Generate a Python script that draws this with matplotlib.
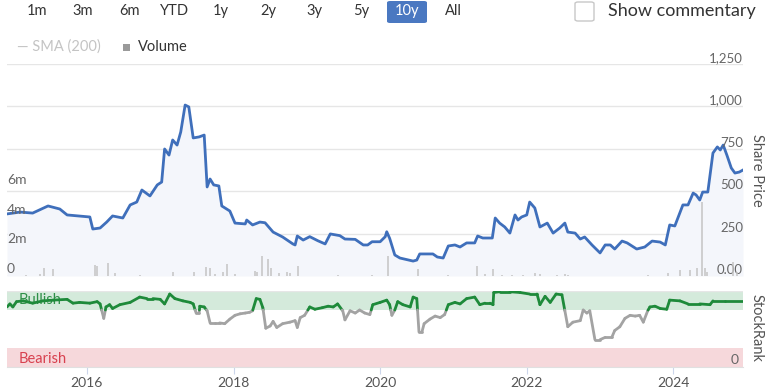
import numpy as np
import matplotlib
matplotlib.use("Agg")
import matplotlib.pyplot as plt
import matplotlib.transforms as mtransforms
from matplotlib.collections import LineCollection
from matplotlib.patches import FancyBboxPatch, Rectangle

plt.rcParams["font.family"] = ["Lato", "DejaVu Sans"]

# Data (dates as decimal years)
price_dates = [
    2014.91, 2015.09, 2015.26, 2015.47, 2015.63, 2015.73, 2016.04, 2016.08, 2016.18, 2016.27,
    2016.35, 2016.49, 2016.59, 2016.68, 2016.75, 2016.86, 2016.96, 2017.02, 2017.06, 2017.12,
    2017.17, 2017.23, 2017.28, 2017.34, 2017.39, 2017.45, 2017.53, 2017.60, 2017.64, 2017.68,
    2017.73, 2017.80, 2017.84, 2017.95, 2018.02, 2018.16, 2018.18, 2018.26, 2018.36, 2018.43,
    2018.54, 2018.67, 2018.81, 2018.84, 2018.87, 2018.95, 2019.04, 2019.15, 2019.25, 2019.32,
    2019.45, 2019.52, 2019.66, 2019.77, 2019.83, 2019.89, 2020.00, 2020.07, 2020.09, 2020.13,
    2020.20, 2020.27, 2020.45, 2020.50, 2020.54, 2020.72, 2020.78, 2020.86, 2020.93, 2021.02,
    2021.09, 2021.18, 2021.29, 2021.33, 2021.40, 2021.53, 2021.57, 2021.63, 2021.70, 2021.77,
    2021.84, 2021.88, 2021.93, 2022.00, 2022.04, 2022.11, 2022.18, 2022.28, 2022.36, 2022.45,
    2022.52, 2022.56, 2022.66, 2022.73, 2022.79, 2022.89, 2022.96, 2023.00, 2023.07, 2023.14,
    2023.20, 2023.30, 2023.37, 2023.50, 2023.61, 2023.71, 2023.82, 2023.89, 2023.95, 2024.02,
    2024.13, 2024.20, 2024.27, 2024.31, 2024.36, 2024.40, 2024.47, 2024.54, 2024.60, 2024.64,
    2024.68, 2024.73, 2024.79, 2024.84, 2024.90, 2024.95,
]
price_vals = [
    366, 377, 371, 413, 395, 360, 348, 277, 283, 318,
    354, 342, 419, 436, 507, 472, 537, 554, 749, 713,
    802, 772, 849, 1008, 997, 814, 820, 831, 525, 572,
    537, 531, 413, 383, 312, 307, 330, 301, 318, 314,
    259, 230, 189, 183, 236, 212, 232, 208, 189, 248,
    238, 218, 216, 183, 183, 202, 202, 232, 261, 222,
    124, 106, 88, 94, 130, 130, 112, 106, 177, 183,
    171, 195, 195, 236, 224, 224, 342, 312, 289, 253,
    360, 330, 348, 360, 436, 401, 289, 312, 253, 283,
    312, 259, 253, 218, 230, 183, 153, 136, 183, 183,
    159, 206, 195, 159, 171, 206, 200, 183, 301, 295,
    419, 419, 489, 478, 448, 495, 495, 725, 761, 743,
    772, 713, 637, 607, 613, 625,
]

vol_dates = [
    2015.17, 2015.36, 2015.41, 2015.54, 2016.11, 2016.14, 2016.29, 2016.38, 2016.72, 2017.17,
    2017.46, 2017.62, 2017.68, 2017.75, 2017.86, 2017.91, 2018.02, 2018.29, 2018.32, 2018.39,
    2018.47, 2018.51, 2018.62, 2018.73, 2018.77, 2018.88, 2019.42, 2019.89, 2020.11, 2020.52,
    2020.93, 2021.32, 2021.43, 2021.54, 2021.66, 2021.80, 2021.95, 2022.11, 2022.18, 2022.41,
    2022.52, 2022.56, 2023.65, 2023.93, 2024.09, 2024.23, 2024.32, 2024.39, 2024.43, 2024.46,
    2024.81, 2024.87,
]
vol_vals = [
    0.1, 0.15, 0.55, 0.45, 0.75, 0.7, 0.9, 0.2, 0.1, 0.25,
    0.25, 0.6, 0.55, 0.15, 0.25, 0.8, 0.15, 0.35, 0.25, 1.35,
    1.15, 0.55, 0.2, 0.25, 0.2, 0.65, 0.1, 0.1, 1.35, 0.45,
    0.1, 0.65, 0.15, 0.45, 0.1, 0.1, 0.1, 0.2, 0.15, 0.1,
    0.15, 0.1, 0.1, 0.2, 0.4, 0.4, 0.55, 5.0, 0.55, 0.3,
    0.95, 0.3,
]

rank_dates = [
    2014.91, 2014.95, 2014.99, 2015.04, 2015.13, 2015.26, 2015.40, 2015.54, 2015.73, 2015.81,
    2015.90, 2016.04, 2016.14, 2016.18, 2016.23, 2016.26, 2016.31, 2016.35, 2016.45, 2016.59,
    2016.72, 2016.82, 2016.90, 2017.00, 2017.06, 2017.13, 2017.20, 2017.31, 2017.41, 2017.45,
    2017.49, 2017.53, 2017.54, 2017.60, 2017.64, 2017.68, 2017.75, 2017.81, 2017.88, 2017.95,
    2018.02, 2018.09, 2018.16, 2018.22, 2018.26, 2018.31, 2018.36, 2018.40, 2018.44, 2018.50,
    2018.54, 2018.59, 2018.67, 2018.77, 2018.84, 2018.87, 2018.91, 2018.97, 2019.04, 2019.11,
    2019.21, 2019.29, 2019.36, 2019.42, 2019.49, 2019.52, 2019.59, 2019.66, 2019.72, 2019.79,
    2019.86, 2019.90, 2020.00, 2020.09, 2020.13, 2020.16, 2020.20, 2020.24, 2020.31, 2020.41,
    2020.45, 2020.50, 2020.53, 2020.57, 2020.60, 2020.68, 2020.75, 2020.82, 2020.88, 2020.93,
    2021.02, 2021.09, 2021.18, 2021.29, 2021.36, 2021.43, 2021.50, 2021.54, 2021.55, 2021.63,
    2021.77, 2021.91, 2022.04, 2022.14, 2022.18, 2022.25, 2022.32, 2022.40, 2022.48, 2022.52,
    2022.56, 2022.63, 2022.73, 2022.77, 2022.82, 2022.86, 2022.93, 2023.00, 2023.07, 2023.16,
    2023.20, 2023.27, 2023.34, 2023.41, 2023.48, 2023.54, 2023.59, 2023.65, 2023.68, 2023.75,
    2023.82, 2023.91, 2023.95, 2024.09, 2024.20, 2024.36, 2024.50, 2024.54, 2024.70, 2024.95,
]
rank_vals = [
    79, 83, 79, 86, 87, 84, 87, 88, 89, 84,
    85, 84, 86, 83, 64, 79, 82, 77, 82, 85,
    92, 90, 90, 89, 83, 96, 90, 87, 85, 83,
    71, 71, 80, 79, 74, 58, 58, 58, 57, 63,
    68, 70, 71, 72, 74, 90, 89, 78, 51, 54,
    60, 52, 57, 59, 61, 52, 65, 68, 79, 76,
    78, 80, 79, 83, 74, 62, 74, 71, 75, 71,
    69, 82, 85, 88, 82, 68, 75, 86, 82, 79,
    92, 90, 46, 46, 57, 63, 67, 65, 69, 82,
    85, 83, 90, 92, 82, 84, 84, 82, 98, 99,
    99, 98, 96, 96, 82, 93, 85, 96, 95, 74,
    53, 59, 61, 75, 71, 74, 36, 36, 39, 39,
    48, 53, 64, 68, 67, 68, 59, 74, 79, 80,
    77, 76, 88, 87, 83, 83, 82, 87, 87, 87,
]

price_ticks = [0, 250, 500, 750, 1000, 1250]
price_labels = ["0.00", "250", "500", "750", "1,000", "1,250"]
vol_ticks = [0, 2, 4, 6]
vol_labels = ["0", "2m", "4m", "6m"]
year_ticks = [2016, 2018, 2020, 2022, 2024]
range_buttons = ["1m", "3m", "6m", "YTD", "1y", "2y", "3y", "5y", "10y", "All"]
active_button = "10y"
bullish_min = 75
bearish_max = 25

# Colours
BLUE = "#3f6fbb"
FILL = "#f4f6fb"
GRID = "#e6e6e6"
GREEN = "#1e8a3a"
GREY_LINE = "#a3a3a3"
TXT = "#666666"

W, H = 766, 391
fig = plt.figure(figsize=(W / 100, H / 100), dpi=100)


def rect(x0, y_top, x1, y_bot):
    return [x0 / W, 1 - y_bot / H, (x1 - x0) / W, (y_bot - y_top) / H]


xlim = (price_dates[0], price_dates[-1])

# Price panel
ax = fig.add_axes(rect(7, 64, 743, 276))
ax.fill_between(price_dates, price_vals, 0, color=FILL, lw=0, zorder=1)
ax.plot(price_dates, price_vals, color=BLUE, lw=2.0, solid_joinstyle="round", zorder=3)
ax.set_xlim(xlim)
ax.set_ylim(0, 1250)
for t in price_ticks:
    ax.axhline(t, color="#d8d8d8" if t == 0 else GRID, lw=1, zorder=0)
ax.set_xticks([])
ax.set_yticks([])
for s in ax.spines.values():
    s.set_visible(False)
off_up = mtransforms.offset_copy(ax.get_yaxis_transform(), fig=fig, x=0, y=2, units="dots")
for t, lab in zip(price_ticks, price_labels):
    ax.text(1.0, t, lab, transform=off_up, ha="right", va="baseline", fontsize=9.5, color=TXT)

# Volume on its own scale, same panel
axv = fig.add_axes(rect(7, 64, 743, 276), sharex=ax)
axv.patch.set_visible(False)
axv.vlines(vol_dates, 0, vol_vals, color="#c4c4c4", lw=1.1, zorder=2)
axv.set_ylim(0, 14.3)
axv.set_yticks([])
axv.tick_params(axis="x", bottom=False, labelbottom=False)
for s in axv.spines.values():
    s.set_visible(False)
offv = mtransforms.offset_copy(axv.get_yaxis_transform(), fig=fig, x=0, y=3, units="dots")
for t, lab in zip(vol_ticks, vol_labels):
    axv.text(0.0, t, lab, transform=offv, ha="left", va="baseline", fontsize=10, color=TXT)

# StockRank panel
axr = fig.add_axes(rect(7, 291, 743, 367))
axr.set_xlim(xlim)
axr.set_ylim(0, 100)
axr.axhspan(bullish_min, 100, color="#d4eadb", lw=0, zorder=0)
axr.axhspan(0, bearish_max, color="#f6d8db", lw=0, zorder=0)
axr.axhline(100, color=GRID, lw=1, zorder=0)


def split_by_threshold(xs, ys, thr):
    segs, cols = [], []
    for x0, y0, x1, y1 in zip(xs[:-1], ys[:-1], xs[1:], ys[1:]):
        if (y0 - thr) * (y1 - thr) < 0:
            xm = x0 + (thr - y0) * (x1 - x0) / (y1 - y0)
            pieces = [((x0, y0), (xm, thr)), ((xm, thr), (x1, y1))]
        else:
            pieces = [((x0, y0), (x1, y1))]
        for p in pieces:
            segs.append(p)
            cols.append(GREEN if (p[0][1] + p[1][1]) / 2 >= thr else GREY_LINE)
    return segs, cols


segs, cols = split_by_threshold(rank_dates, rank_vals, bullish_min)
axr.add_collection(LineCollection(segs, colors=cols, linewidths=2.0, capstyle="round",
                                  joinstyle="round", zorder=3))
axr.text(2015.07, 87.5, "Bullish", color="#2f8f48", fontsize=10.5, va="center", zorder=2)
axr.text(2015.07, 11, "Bearish", color="#d8414f", fontsize=10.5, va="center", zorder=2)
axr.text(0.994, 0, "0", transform=mtransforms.offset_copy(axr.get_yaxis_transform(), fig=fig,
         x=0, y=3, units="dots"), ha="right", va="baseline", fontsize=10, color=TXT)
axr.set_yticks([])
axr.set_xticks(year_ticks)
axr.set_xticklabels([str(y) for y in year_ticks])
axr.tick_params(axis="x", length=5, color="#ccd6eb", labelcolor="#555555", labelsize=10, pad=2)
for name, s in axr.spines.items():
    s.set_visible(name == "bottom")
axr.spines["bottom"].set_color("#e0e0e0")

# Axis titles on the right
fig.text(757 / W, 1 - 170 / H, "Share Price", rotation=270, ha="center", va="center",
         fontsize=10.5, color="#555555")
fig.text(757 / W, 1 - 328 / H, "StockRank", rotation=270, ha="center", va="center",
         fontsize=10.5, color="#555555")

# Range selector buttons
button_x = [37, 83, 129, 175, 221, 268, 314, 361, 407, 453]
for bx, lab in zip(button_x, range_buttons):
    if lab == active_button:
        fig.patches.append(FancyBboxPatch((387 / W, 1 - 23 / H), 40 / W, 22 / H,
                                          boxstyle="round,pad=0,rounding_size=0.004",
                                          transform=fig.transFigure, fc="#4a78c1", ec="none"))
        fig.text(bx / W, 1 - 11 / H, lab, ha="center", va="center", fontsize=10.5, color="white")
    else:
        fig.text(bx / W, 1 - 11 / H, lab, ha="center", va="center", fontsize=10.5,
                 color="#333333")

# Show commentary checkbox
fig.patches.append(FancyBboxPatch((575 / W, 1 - 21 / H), 19 / W, 19 / H,
                                  boxstyle="round,pad=0,rounding_size=0.004",
                                  transform=fig.transFigure, fc="white", ec="#c8c8c8", lw=1))
fig.text(608 / W, 1 - 11 / H, "Show commentary", ha="left", va="center", fontsize=13,
         color="#333333")

# Legend
fig.text(17 / W, 1 - 47 / H, "\u2014 SMA (200)", ha="left", va="center", fontsize=10.5,
         color="#c4c4c4")
fig.patches.append(Rectangle((123 / W, 1 - 51 / H), 7 / W, 7 / H, transform=fig.transFigure,
                             fc="#9a9a9a", ec="none"))
fig.text(138 / W, 1 - 47 / H, "Volume", ha="left", va="center", fontsize=10.5, color="#333333")

fig.savefig("out.png", dpi=100)
